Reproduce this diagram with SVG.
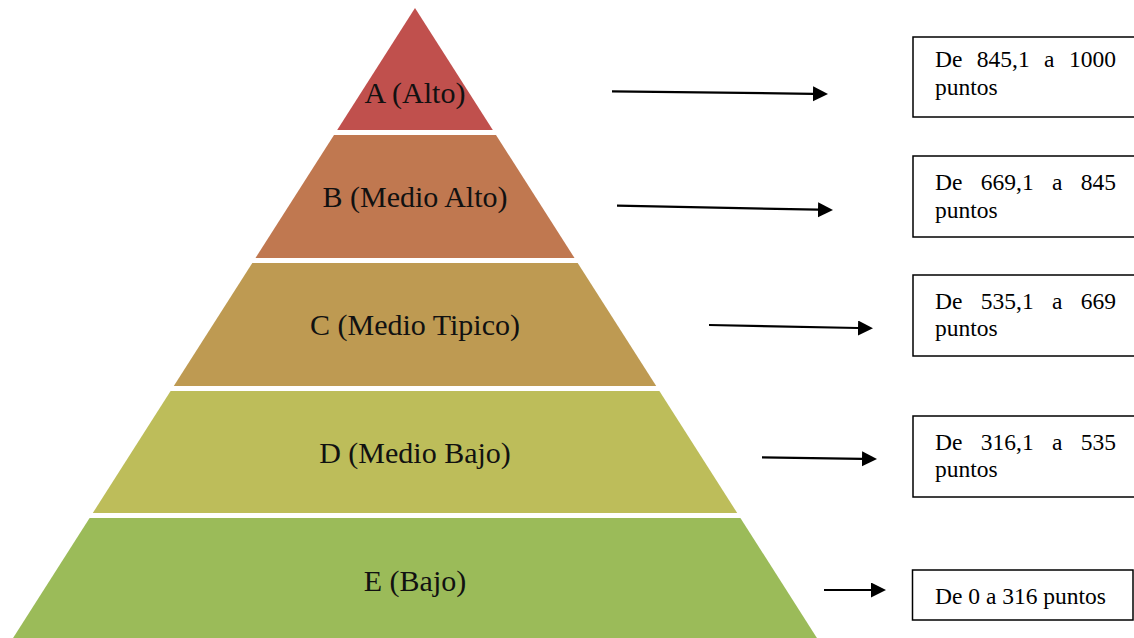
<svg xmlns="http://www.w3.org/2000/svg" width="1134" height="638" viewBox="0 0 1134 638">
  <style>
    .lvl { font-family: "Liberation Serif", "Times New Roman", serif; font-size: 30px; fill: #111; text-anchor: middle; }
    .box { fill: #fff; stroke: #000; stroke-width: 1.5; }
    .bt { font-family: "Liberation Serif", "Times New Roman", serif; font-size: 23.5px; fill: #000; }
    .conn { stroke: #000; stroke-width: 2.2; fill: none; }
  </style>
  <defs>
    <marker id="ah" markerUnits="userSpaceOnUse" markerWidth="16" markerHeight="16" refX="0" refY="7.5" orient="auto">
      <path d="M0,0 L15,7.5 L0,15 Z" fill="#000"/>
    </marker>
  </defs>
  <rect width="1134" height="638" fill="#fff"/>

  <g id="level-a">
    <polygon points="415,8 492.8,130 337.2,130" fill="#C0504D"/>
    <text class="lvl" x="415" y="103">A (Alto)</text>
  </g>
  <g id="level-b">
    <polygon points="334,135 496,135 574.5,258 255.5,258" fill="#C07850"/>
    <text class="lvl" x="415" y="207">B (Medio Alto)</text>
  </g>
  <g id="level-c">
    <polygon points="252.3,263 577.7,263 656.2,386 173.8,386" fill="#BE9A52"/>
    <text class="lvl" x="415" y="335">C (Medio Tipico)</text>
  </g>
  <g id="level-d">
    <polygon points="170.6,391 659.4,391 737.2,513 92.8,513" fill="#BDBD5A"/>
    <text class="lvl" x="415" y="463">D (Medio Bajo)</text>
  </g>
  <g id="level-e">
    <polygon points="89.6,518 740.4,518 821.4,645 8.6,645" fill="#9BBB59"/>
    <text class="lvl" x="415" y="591">E (Bajo)</text>
  </g>

  <g id="box-a">
    <rect class="box" x="913" y="37" width="240" height="80"/>
    <text class="bt" y="67"><tspan x="935">De</tspan><tspan x="976.8">845,1</tspan><tspan x="1044.1">a</tspan><tspan x="1069">1000</tspan></text>
    <text class="bt" x="935" y="95">puntos</text>
  </g>
  <g id="box-b">
    <rect class="box" x="913" y="156" width="240" height="81"/>
    <text class="bt" y="190"><tspan x="935">De</tspan><tspan x="980.8">669,1</tspan><tspan x="1052">a</tspan><tspan x="1080.8">845</tspan></text>
    <text class="bt" x="935" y="218">puntos</text>
  </g>
  <g id="box-c">
    <rect class="box" x="913" y="275" width="240" height="81"/>
    <text class="bt" y="309"><tspan x="935">De</tspan><tspan x="980.8">535,1</tspan><tspan x="1052">a</tspan><tspan x="1080.8">669</tspan></text>
    <text class="bt" x="935" y="336">puntos</text>
  </g>
  <g id="box-d">
    <rect class="box" x="913" y="416" width="240" height="81"/>
    <text class="bt" y="450"><tspan x="935">De</tspan><tspan x="980.8">316,1</tspan><tspan x="1052">a</tspan><tspan x="1080.8">535</tspan></text>
    <text class="bt" x="935" y="477">puntos</text>
  </g>
  <g id="box-e">
    <rect class="box" x="912.5" y="570" width="220.5" height="50"/>
    <text class="bt" x="935" y="604">De 0 a 316 puntos</text>
  </g>

  <g id="connectors">
    <line class="conn" x1="612" y1="91.3" x2="813" y2="93.8" marker-end="url(#ah)"/>
    <line class="conn" x1="617" y1="205.7" x2="818" y2="209.7" marker-end="url(#ah)"/>
    <line class="conn" x1="709" y1="325" x2="858" y2="328" marker-end="url(#ah)"/>
    <line class="conn" x1="762" y1="457.3" x2="862" y2="458.8" marker-end="url(#ah)"/>
    <line class="conn" x1="824" y1="590" x2="871" y2="590" marker-end="url(#ah)"/>
  </g>
</svg>
